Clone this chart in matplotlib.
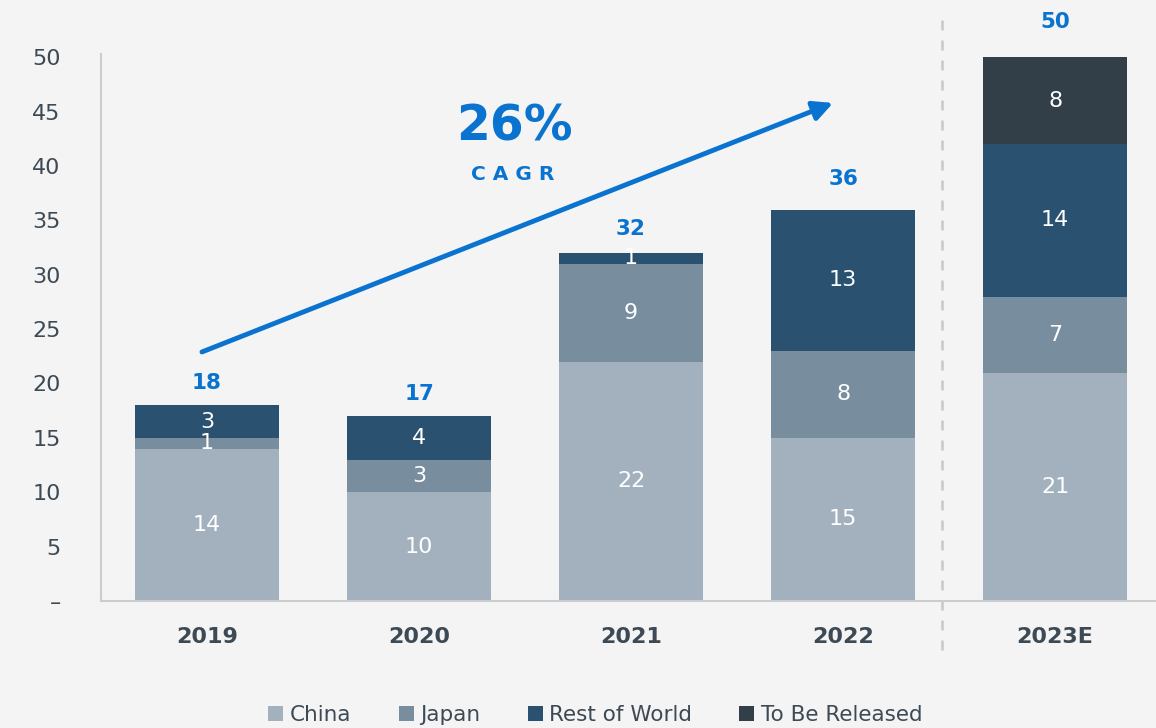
import matplotlib.pyplot as plt
import numpy as np

years = ["2019", "2020", "2021", "2022", "2023E"]
china = [14, 10, 22, 15, 21]
japan = [1, 3, 9, 8, 7]
rest_of_world = [3, 4, 1, 13, 14]
to_be_released = [0, 0, 0, 0, 8]
totals = [18, 17, 32, 36, 50]
y_ticks = [0, 5, 10, 15, 20, 25, 30, 35, 40, 45, 50]

series = [
    ("China", china, "#a3b1be"),
    ("Japan", japan, "#788e9e"),
    ("Rest of World", rest_of_world, "#2b5170"),
    ("To Be Released", to_be_released, "#323e48"),
]

BG = "#f4f4f4"
TEXT = "#3d4a55"
BLUE = "#0a73d0"

plt.rcParams['font.family'] = ['DejaVu Sans']

fig = plt.figure(figsize=(11.56, 7.28), dpi=100, facecolor=BG)
ax = fig.add_axes([0.0874, 0.1745, 0.9126, 0.7513], facecolor=BG)

x = np.arange(len(years))
bottom = np.zeros(len(years))
for name, vals, color in series:
    vals = np.array(vals, dtype=float)
    ax.bar(x, vals, 0.68, bottom=bottom, color=color, label=name, zorder=2)
    for xi, b, v in zip(x, bottom, vals):
        if v > 0:
            ax.text(xi, b + v / 2, f"{int(v)}", ha='center', va='center',
                    color='white', fontsize=16, zorder=3)
    bottom += vals

# totals above each stack
label_pad = [9, 9, 10, 15, 18]
for xi, t, pad in zip(x, totals, label_pad):
    ax.annotate(f"{t}", (xi, t), xytext=(0, pad), textcoords='offset points',
                ha='center', va='bottom', color=BLUE, fontsize=15.5,
                fontweight='bold')

# growth arrow
ax.annotate("", xy=(2.953, 45.8), xytext=(-0.024, 22.9),
            arrowprops=dict(arrowstyle='-|>,head_length=0.9,head_width=0.45',
                            mutation_scale=13, color=BLUE, lw=3.5,
                            shrinkA=0, shrinkB=0))
ax.text(1.45, 43.6, "26%", ha='center', va='center', color=BLUE,
        fontsize=35, fontweight='bold')
ax.text(1.44, 39.2, "C A G R", ha='center', va='center', color=BLUE,
        fontsize=14.5, fontweight='bold')

# separator before the estimate year
ax.axvline(3.467, ymin=-0.09, ymax=1.075, color='#c8c8c8', lw=1.8,
           ls=(0, (4, 4)), clip_on=False, zorder=1)

ax.set_xlim(-0.5, 4.476)
ax.set_ylim(0, 50.3)
ax.set_xticks(x)
ax.set_xticklabels(years, fontsize=16, fontweight='bold', color=TEXT)
ax.set_yticks(y_ticks)
ax.set_yticklabels(["–"] + [str(v) for v in y_ticks[1:]], fontsize=16,
                   color=TEXT)
ax.tick_params(axis='both', length=0)
ax.tick_params(axis='x', pad=19)
ax.tick_params(axis='y', pad=29)

for side in ['top', 'right']:
    ax.spines[side].set_visible(False)
for side in ['left', 'bottom']:
    ax.spines[side].set_color('#c8cdd2')
    ax.spines[side].set_linewidth(1.5)

fig.legend(loc='lower center', bbox_to_anchor=(0.515, -0.022), ncol=4,
           frameon=False, handlelength=0.7, handleheight=0.7,
           handletextpad=0.3, columnspacing=2.2, labelcolor=TEXT,
           prop={'size': 15.5})

fig.savefig("out.png", dpi=100, facecolor=BG)
